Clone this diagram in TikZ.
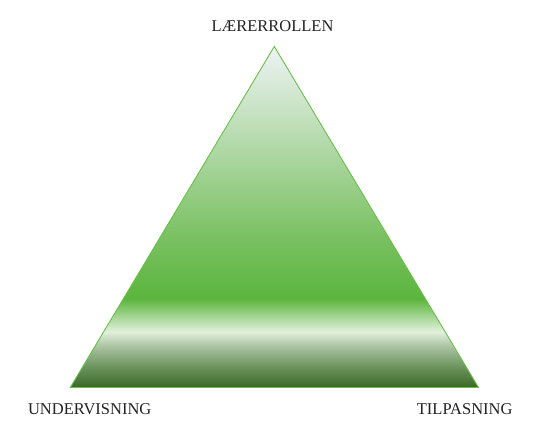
\documentclass[tikz,border=0pt]{standalone}
\usepackage{fontspec}
\setmainfont{Liberation Serif}
\definecolor{cTop}{HTML}{EEF3F4}
\definecolor{cMid}{HTML}{78C060}
\definecolor{cSat}{HTML}{5BB53D}
\definecolor{cPale}{HTML}{E2F1DC}
\definecolor{cGrey}{HTML}{A9C2A0}
\definecolor{cDeep}{HTML}{6B935C}
\definecolor{cBot}{HTML}{3A6828}
\definecolor{edgeGreen}{HTML}{6ABF4B}
\definecolor{txt}{HTML}{222222}
\pgfdeclareverticalshading{triShade}{100bp}{%
  color(0bp)=(cBot); color(25bp)=(cBot); color(28bp)=(cDeep); color(31bp)=(cGrey);
  color(33.2bp)=(cPale); color(38bp)=(cSat); color(46.6bp)=(cMid);
  color(75bp)=(cTop); color(100bp)=(cTop)}
\tikzset{
  label/.style={font=\fontsize{16.5}{18}\selectfont, text=txt, anchor=base, inner sep=0pt},
  tri/.style={draw=edgeGreen, line width=0.9pt, shading=triShade, line join=miter}
}
\begin{document}
\begin{tikzpicture}[x=1pt,y=-1pt]
\useasboundingbox (0,0) rectangle (553,428);
\coordinate (apex) at (274.3,46.5);
\coordinate (bl) at (70.3,387.5);
\coordinate (br) at (478.5,387.5);
\path[tri] (apex) -- (br) -- (bl) -- cycle;
\node[label] (top) at (272.5,31.7) {LÆRERROLLEN};
\node[label] (left) at (89.7,414.2) {UNDERVISNING};
\node[label] (right) at (464.7,414.2) {TILPASNING};
\end{tikzpicture}
\end{document}
